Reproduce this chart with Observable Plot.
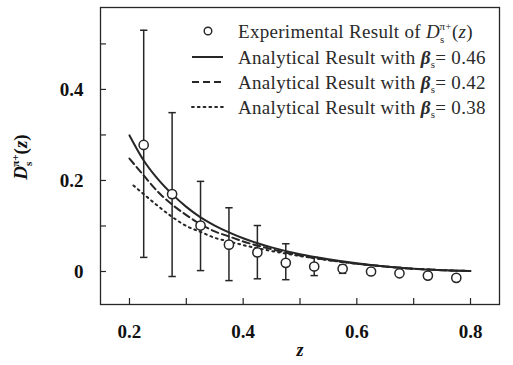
<!DOCTYPE html>
<html><head><meta charset="utf-8">
<script src="https://cdn.jsdelivr.net/npm/d3@7"></script>
<script src="https://cdn.jsdelivr.net/npm/@observablehq/plot@0.6"></script>
<style>
body{margin:0;background:#fff;}
#chart svg{display:block;}
</style>
</head><body><div id="chart"></div>
<script>
// Experimental points
const zExp  = [0.225, 0.275, 0.325, 0.375, 0.425, 0.475, 0.525, 0.575, 0.625, 0.675, 0.725, 0.775];
const dExp  = [0.278, 0.170, 0.101, 0.059, 0.042, 0.019, 0.011, 0.006, 0.000, -0.004, -0.009, -0.014];
const errHi = [0.530, 0.349, 0.198, 0.140, 0.101, 0.061, 0.031, 0.014, 0.004, 0.000, -0.005, -0.010];
const errLo = [0.031, -0.011, 0.002, -0.020, -0.016, -0.018, -0.009, -0.004, -0.004, -0.008, -0.013, -0.018];
// Analytical curves
const zGrid   = [0.2, 0.225, 0.25, 0.275, 0.3, 0.325, 0.35, 0.375, 0.4, 0.45, 0.5, 0.55, 0.6, 0.65, 0.7, 0.75, 0.8];
const dBeta46 = [0.299, 0.244, 0.203, 0.170, 0.142, 0.119, 0.101, 0.086, 0.073, 0.053, 0.038, 0.027, 0.018, 0.011, 0.006, 0.003, 0.001];
const dBeta42 = [0.248, 0.211, 0.175, 0.147, 0.124, 0.104, 0.088, 0.077, 0.066, 0.049, 0.035, 0.025, 0.017, 0.011, 0.006, 0.003, 0.001];
const zDotted = [0.207, 0.225, 0.25, 0.275, 0.3, 0.325, 0.35, 0.375, 0.4, 0.45, 0.5, 0.55, 0.6, 0.65, 0.7, 0.75, 0.8];
const dBeta38 = [0.189, 0.170, 0.144, 0.120, 0.100, 0.087, 0.074, 0.066, 0.058, 0.045, 0.034, 0.025, 0.017, 0.011, 0.006, 0.003, 0.001];
// Axes
const xTicks  = [0.2, 0.3, 0.4, 0.5, 0.6, 0.7, 0.8];
const xLabels = [0.2, 0.4, 0.6, 0.8];
const yTicks  = [0, 0.1, 0.2, 0.3, 0.4, 0.5];
const yLabels = [0, 0.2, 0.4];
const betaLabels = ["0.46", "0.42", "0.38"];

const ink = "#262626";
const serif = "'Liberation Serif', 'Times New Roman', serif";
const expData = zExp.map((z, i) => ({z, d: dExp[i], lo: errLo[i], hi: errHi[i]}));
const mk = (zs, ds) => zs.map((z, i) => ({z, d: ds[i]}));
const c46 = mk(zGrid, dBeta46), c42 = mk(zGrid, dBeta42), c38 = mk(zDotted, dBeta38);
const fmt = d => d === 0 ? "0" : d.toFixed(1);
const capSymbol = {draw(ctx) { ctx.moveTo(-3.7, 0); ctx.lineTo(3.7, 0); }};

const plot = Plot.plot({
  width: 513, height: 365,
  marginLeft: 100, marginRight: 14, marginTop: 7, marginBottom: 61,
  x: {domain: [0.149, 0.851]},
  y: {domain: [-0.0725, 0.58]},
  style: {background: "transparent", fontFamily: serif, color: ink},
  marks: [
    Plot.axisX({ticks: xTicks, tickSize: -6, tickFormat: () => "", label: null, stroke: ink, strokeWidth: 1.2}),
    Plot.axisX({ticks: xLabels, tickSize: 0, tickPadding: 20, tickFormat: fmt, label: null,
      fontSize: 19, fontWeight: "bold", fill: "#111", style: "letter-spacing:1.2px"}),
    Plot.axisY({ticks: yTicks, tickSize: -6, tickFormat: () => "", label: null, stroke: ink, strokeWidth: 1.2}),
    Plot.axisY({ticks: yLabels, tickSize: 0, tickPadding: 17, tickFormat: fmt, label: null,
      fontSize: 19, fontWeight: "bold", fill: "#111", style: "letter-spacing:1.2px"}),
    Plot.ruleX(expData, {x: "z", y1: "lo", y2: "hi", stroke: ink, strokeWidth: 1.5}),
    Plot.dot(expData, {x: "z", y: "hi", symbol: capSymbol, stroke: ink, strokeWidth: 1.5, fill: "none"}),
    Plot.dot(expData, {x: "z", y: "lo", symbol: capSymbol, stroke: ink, strokeWidth: 1.5, fill: "none"}),
    Plot.line(c38, {x: "z", y: "d", curve: "monotone-x", stroke: ink, strokeWidth: 2, strokeDasharray: "1.8,4", strokeLinecap: "round"}),
    Plot.line(c42, {x: "z", y: "d", curve: "monotone-x", stroke: ink, strokeWidth: 2, strokeDasharray: "7,4"}),
    Plot.line(c46, {x: "z", y: "d", curve: "monotone-x", stroke: ink, strokeWidth: 2}),
    Plot.dot(expData, {x: "z", y: "d", r: 4.6, stroke: ink, strokeWidth: 1.5, fill: "white"}),
    Plot.frame({stroke: ink, strokeWidth: 1.3})
  ]
});
document.getElementById("chart").appendChild(plot);

const svg = d3.select(plot);
// y-axis label
const yl = svg.append("text")
  .attr("transform", "translate(27,157) rotate(-90)")
  .attr("text-anchor", "middle")
  .attr("font-family", serif).attr("font-weight", "bold").attr("font-size", 19).attr("fill", "#111");
yl.append("tspan").attr("font-style", "italic").text("D");
yl.append("tspan").attr("font-size", 11).attr("dy", 5).text("s");
yl.append("tspan").attr("font-size", 11).attr("dx", -5).attr("dy", -13).text("π+");
yl.append("tspan").attr("dy", 8).text("(");
yl.append("tspan").attr("font-style", "italic").text("z");
yl.append("tspan").text(")");
// x-axis label
svg.append("text").attr("x", 300).attr("y", 356).attr("text-anchor", "middle")
  .attr("font-family", serif).attr("font-style", "italic").attr("font-weight", "bold")
  .attr("font-size", 18).attr("fill", "#111").text("z");

// legend
const lg = svg.append("g").attr("font-family", serif).attr("font-size", 19)
  .attr("fill", "#2a2a2a").attr("text-anchor", "start").attr("letter-spacing", "0.3px");
const rowY = [31, 57, 82, 107];
const sx0 = 192, sx1 = 223, tx = 238;
lg.append("circle").attr("cx", 208).attr("cy", rowY[0]).attr("r", 3.8)
  .attr("fill", "white").attr("stroke", ink).attr("stroke-width", 1.4);
const dashes = [null, "7,4", "1.8,4"];
dashes.forEach((da, i) => {
  const l = lg.append("line").attr("x1", sx0).attr("x2", sx1)
    .attr("y1", rowY[i + 1]).attr("y2", rowY[i + 1])
    .attr("stroke", ink).attr("stroke-width", 2);
  if (da) l.attr("stroke-dasharray", da);
  if (i === 2) l.attr("stroke-linecap", "round");
});
const t0 = lg.append("text").attr("x", tx).attr("y", rowY[0]).attr("dy", "0.35em");
t0.append("tspan").text("Experimental Result of ");
t0.append("tspan").attr("font-style", "italic").text("D");
t0.append("tspan").attr("font-size", 11).attr("dy", 5).text("s");
t0.append("tspan").attr("font-size", 11).attr("dx", -5).attr("dy", -13).text("π+");
t0.append("tspan").attr("dy", 8).text("(");
t0.append("tspan").attr("font-style", "italic").text("z");
t0.append("tspan").text(")");
betaLabels.forEach((b, i) => {
  const t = lg.append("text").attr("x", tx).attr("y", rowY[i + 1]).attr("dy", "0.35em");
  t.append("tspan").text("Analytical Result with ");
  t.append("tspan").attr("font-style", "italic").attr("font-weight", "bold").text("β");
  t.append("tspan").attr("font-size", 11).attr("dy", 4).text("s");
  t.append("tspan").attr("dy", -4).text("= " + b);
});
</script>
</body></html>
